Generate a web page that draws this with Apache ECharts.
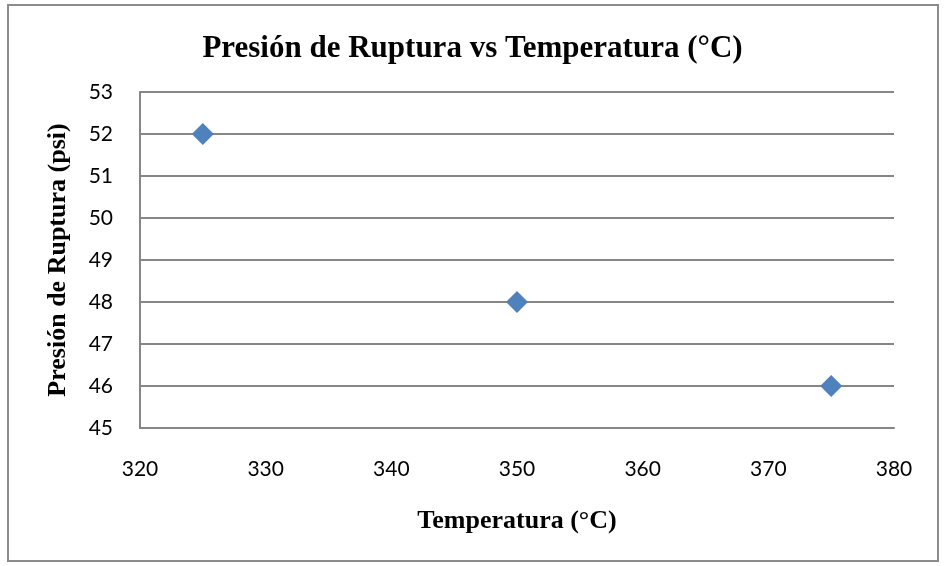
<!DOCTYPE html>
<html>
<head>
<meta charset="utf-8">
<script src="https://cdn.jsdelivr.net/npm/echarts@6/dist/echarts.min.js"></script>
<style>
  html, body { margin: 0; padding: 0; background: #fff; }
  #frame { position: absolute; left: 7px; top: 4px; width: 932px; height: 558px; border: 2px solid #8c8c8c; box-sizing: border-box; }
  #chart { position: absolute; left: 0; top: 0; width: 945px; height: 566px; }
</style>
</head>
<body>
<div id="frame"></div>
<div id="chart"></div>
<script>
// Rupture pressure measured at three temperatures
const temperatures = [325, 350, 375];
const pressures = [52, 48, 46];
const xTicks = { min: 320, max: 380, interval: 10 };
const yTicks = { min: 45, max: 53, interval: 1 };

const points = temperatures.map((t, i) => [t, pressures[i]]);

const chart = echarts.init(document.getElementById('chart'), null, { renderer: 'canvas' });
const labelFont = 'Lato, "Open Sans", sans-serif';
const serif = '"Liberation Serif", "Times New Roman", serif';

chart.setOption({
  animation: false,
  title: {
    text: 'Presión de Ruptura vs Temperatura (°C)',
    left: 'center',
    top: 28,
    textStyle: { fontFamily: serif, fontWeight: 'bold', fontSize: 31, color: '#000' }
  },
  grid: { left: 140, right: 51, top: 92, bottom: 138, containLabel: false },
  xAxis: {
    type: 'value',
    min: xTicks.min, max: xTicks.max, interval: xTicks.interval,
    name: 'Temperatura (°C)',
    nameLocation: 'middle',
    nameGap: 80,
    nameTextStyle: { fontFamily: serif, fontWeight: 'bold', fontSize: 26, color: '#000' },
    axisLine: { show: true, lineStyle: { color: '#868686', width: 2 } },
    axisTick: { show: false },
    splitLine: { show: false },
    axisLabel: { fontFamily: labelFont, fontSize: 21, color: '#000', margin: 31 }
  },
  yAxis: {
    type: 'value',
    min: yTicks.min, max: yTicks.max, interval: yTicks.interval,
    name: 'Presión de Ruptura (psi)',
    nameLocation: 'middle',
    nameGap: 69,
    nameRotate: 90,
    nameTextStyle: { fontFamily: serif, fontWeight: 'bold', fontSize: 26, color: '#000' },
    axisLine: { show: true, lineStyle: { color: '#868686', width: 2 } },
    axisTick: { show: false },
    splitLine: { show: true, lineStyle: { color: '#868686', width: 2 } },
    axisLabel: { fontFamily: labelFont, fontSize: 21, color: '#000', margin: 27 }
  },
  series: [{
    type: 'scatter',
    data: points,
    symbol: 'diamond',
    symbolSize: [22, 22],
    itemStyle: { color: '#4F81BD', opacity: 1 }
  }]
});
</script>
</body>
</html>
